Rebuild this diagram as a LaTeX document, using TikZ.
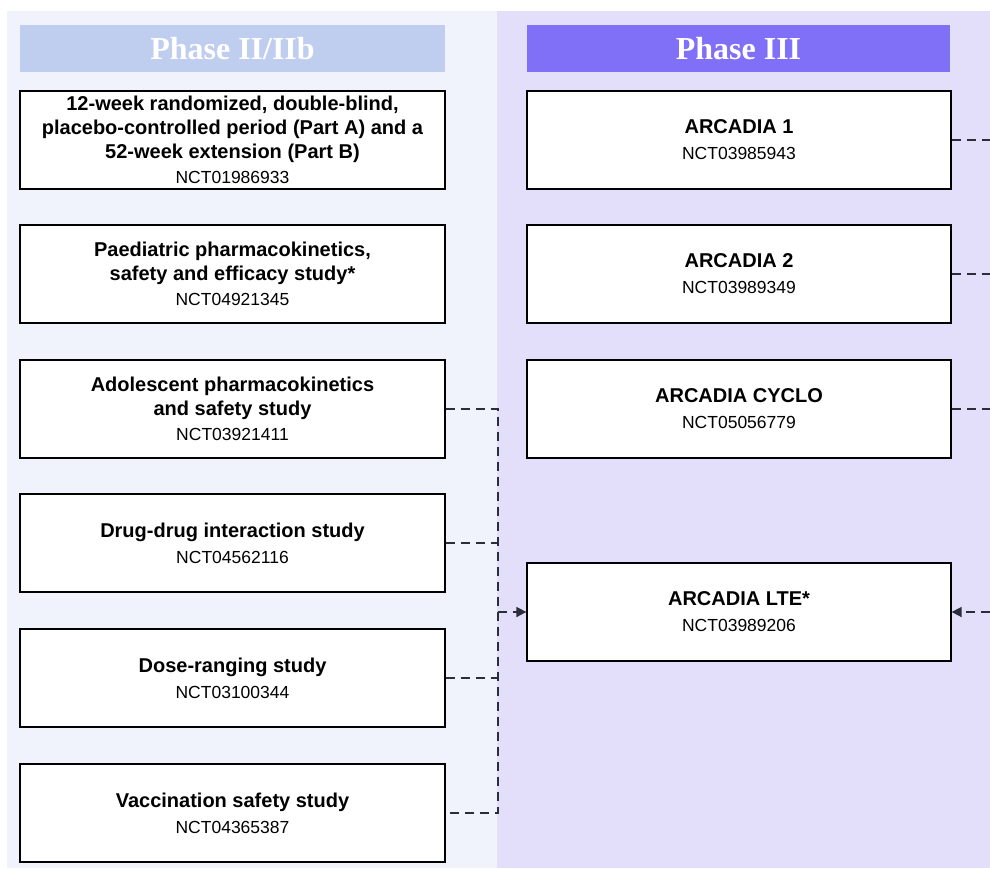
\documentclass[tikz,border=0pt]{standalone}
\usepackage{fontspec}
\setmainfont{Liberation Sans}
\newfontfamily\hdrfont{Liberation Serif}
\usetikzlibrary{arrows.meta}
\definecolor{leftbg}{HTML}{F0F3FC}
\definecolor{rightbg}{HTML}{E3DFFB}
\definecolor{lefthdr}{HTML}{BFCDEF}
\definecolor{righthdr}{HTML}{806FF7}
\definecolor{connc}{HTML}{2B2D38}
\newcommand{\tl}[1]{\textbf{#1}}
\newcommand{\nct}[1]{{\fontsize{17.5}{24}\selectfont #1}}
\tikzset{
  panel/.style={draw=none},
  hdr/.style={draw=none, minimum height=47pt, text=white, font=\hdrfont\bfseries\fontsize{32}{36}\selectfont, inner sep=0pt},
  studybox/.style={draw=black, line width=1.3pt, fill=white, minimum height=98pt, align=center, inner sep=2pt, font=\fontsize{20}{24}\selectfont},
  lbox/.style={studybox, minimum width=425pt},
  rbox/.style={studybox, minimum width=424pt},
  conn/.style={draw=connc, line width=1.7pt, dash pattern=on 9pt off 6pt},
  tip/.style={-{Triangle[length=10pt,width=10pt]}}
}
\begin{document}
\begin{tikzpicture}[x=1pt,y=1pt]
\useasboundingbox (0,0) rectangle (990,-868);
\fill[leftbg] (7,-11) rectangle (497,-868);
\fill[rightbg] (497,-11) rectangle (990,-868);
\node[hdr, fill=lefthdr, minimum width=425pt] (hl) at (232.5,-48.5) {Phase II/IIb};
\node[hdr, fill=righthdr, minimum width=423pt] (hr) at (738.5,-48.5) {Phase III};

\node[lbox] (l1) at (232.5,-140) {\tl{12-week randomized, double-blind,}\\\tl{placebo-controlled period (Part A) and a}\\\tl{52-week extension (Part B)}\\[1pt]\nct{NCT01986933}};
\node[lbox] (l2) at (232.5,-274) {\tl{Paediatric pharmacokinetics,}\\\tl{safety and efficacy study*}\\[1pt]\nct{NCT04921345}};
\node[lbox] (l3) at (232.5,-409) {\tl{Adolescent pharmacokinetics}\\\tl{and safety study}\\[1pt]\nct{NCT03921411}};
\node[lbox] (l4) at (232.5,-543) {\tl{Drug-drug interaction study}\\[2pt]\nct{NCT04562116}};
\node[lbox] (l5) at (232.5,-678) {\tl{Dose-ranging study}\\[2pt]\nct{NCT03100344}};
\node[lbox] (l6) at (232.5,-813) {\tl{Vaccination safety study}\\[2pt]\nct{NCT04365387}};

\node[rbox] (r1) at (739,-140) {\tl{ARCADIA 1}\\[2pt]\nct{NCT03985943}};
\node[rbox] (r2) at (739,-274) {\tl{ARCADIA 2}\\[2pt]\nct{NCT03989349}};
\node[rbox] (r3) at (739,-409) {\tl{ARCADIA CYCLO}\\[2pt]\nct{NCT05056779}};
\node[rbox] (r4) at (739,-612) {\tl{ARCADIA LTE*}\\[2pt]\nct{NCT03989206}};

\coordinate (sp) at (498,0);
\coordinate (re) at (990,0);
\draw[conn] (l3.east) -- (l3.east -| sp) -- (l6.east -| sp) -- (l6.east);
\draw[conn] (l4.east) -- (l4.east -| sp);
\draw[conn] (l5.east) -- (l5.east -| sp);
\draw[conn, tip] (r4.west -| sp) -- (r4.west);
\draw[conn] (r1.east) -- (r1.east -| re);
\draw[conn] (r2.east) -- (r2.east -| re);
\draw[conn] (r3.east) -- (r3.east -| re);
\draw[conn, tip] (r4.east -| re) -- (r4.east);
\end{tikzpicture}
\end{document}
